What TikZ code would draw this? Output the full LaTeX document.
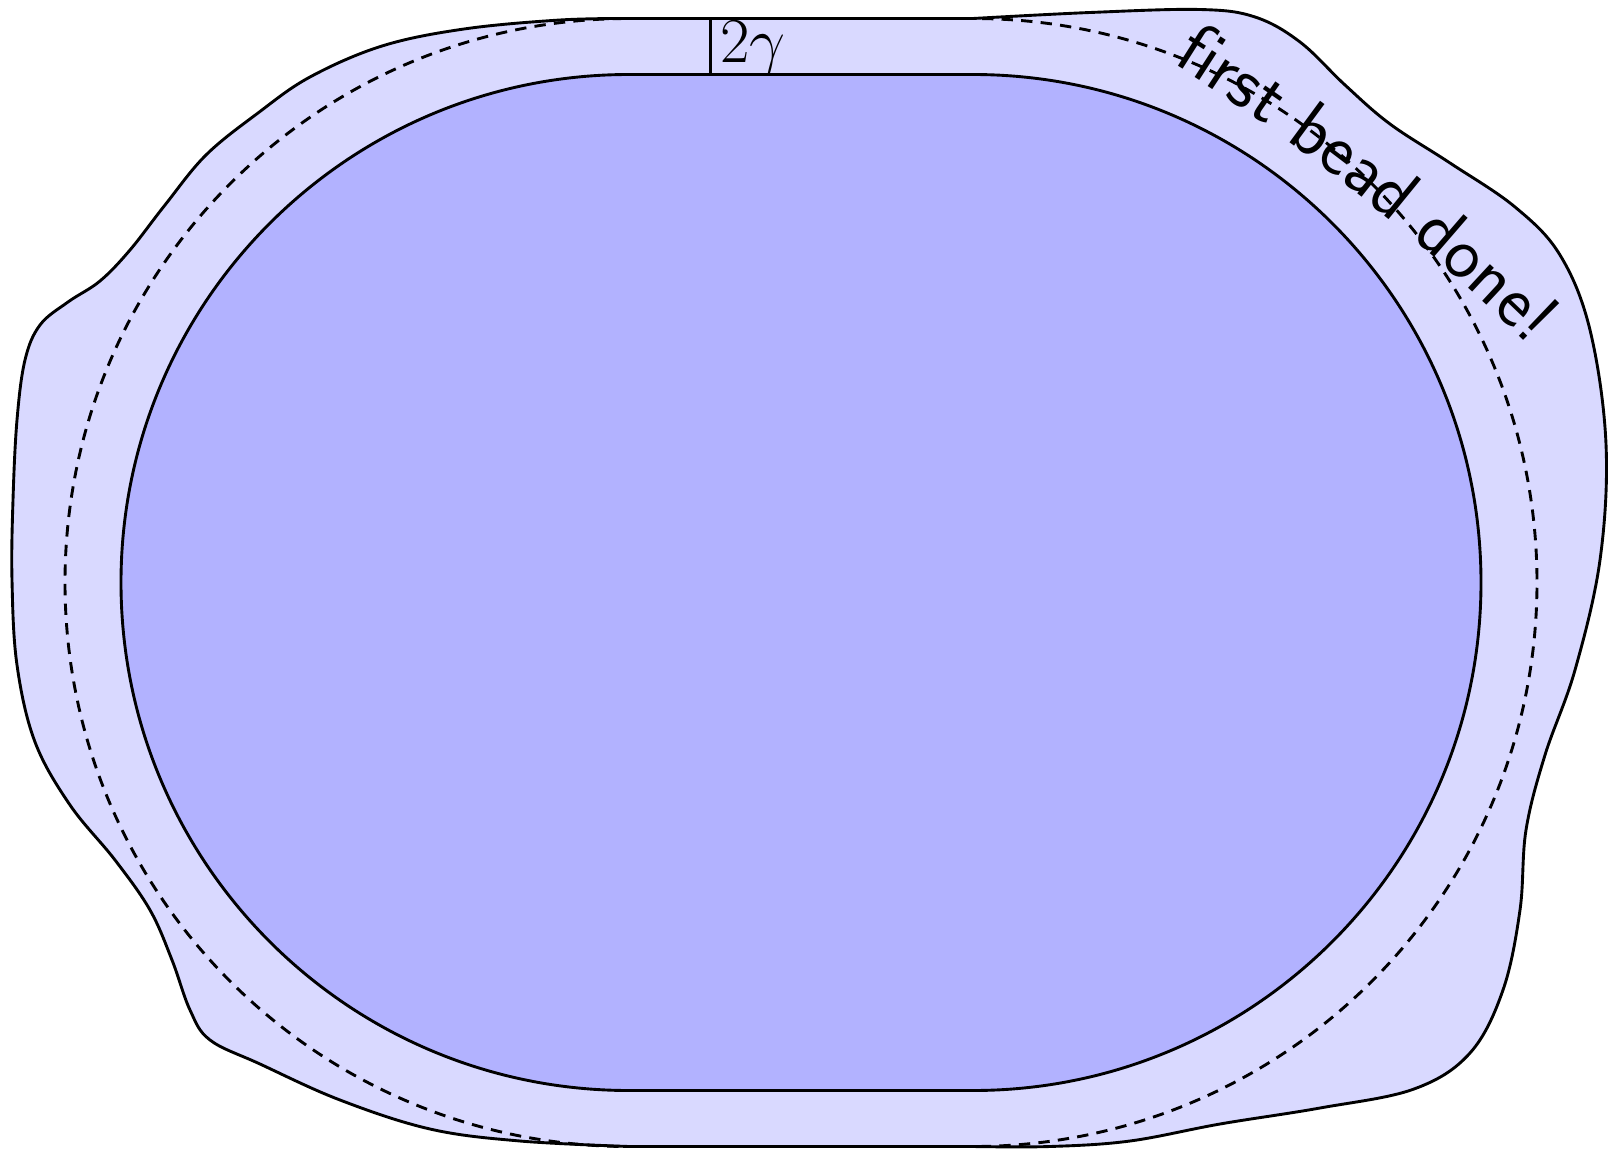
\documentclass[tikz,border=0pt]{standalone}
\usepackage{fix-cm}
\usetikzlibrary{decorations.text}
\begin{document}
\begin{tikzpicture}[x=0.4845pt,y=-0.4845pt,
  edge/.style={line width=1.4pt, line join=round},
  outerband/.style={edge, fill=blue!15},
  innercore/.style={edge, fill=blue!30},
  beadline/.style={line width=1.4pt, dash pattern=on 5.5pt off 4pt},
  gaplabel/.style={anchor=base west, inner sep=0pt, font=\fontsize{31}{36}\selectfont},
  beadtext/.style={decorate, decoration={text along path,
     text={|\fontsize{36}{40}\selectfont\sffamily|first bead done!}}}
]
\useasboundingbox (0,0) rectangle (1618,1150);
\coordinate (LC) at (629,582.5);
\coordinate (RC) at (973,582.5);
% outer boundary
\draw[outerband] (629,18.5) -- (973,18.5)
  -- plot[smooth, tension=0.6] coordinates {(973,18.5) (1090,12.5) (1200,9.5) (1255,17) (1300,42) (1345,85) (1390,124) (1450,163) (1515,207) (1560,255) (1590,330) (1606,444) (1600,560) (1575,670) (1545,755) (1526,830) (1520,910) (1503,990) (1470,1053) (1414,1089) (1320,1108) (1220,1124) (1130,1141) (1050,1146.5) (973,1146.5)}
  -- (629,1146.5)
  -- plot[smooth, tension=0.6] coordinates {(629,1146.5) (520,1141) (430,1129) (340,1100) (260,1064) (210,1040) (190,1010) (172,960) (150,910) (115,860) (70,805) (35,742) (17,665) (12,580) (13,500) (17,420) (25,360) (40,325) (68,302) (100,281) (130,250) (165,205) (206,155) (258,113) (310,77) (382,46) (464,29) (560,20) (629,18.5)}
  -- cycle;
% dashed offset curve
\draw[beadline] (629,18.5) -- (973,18.5) arc[start angle=270, end angle=450, radius=564]
  -- (629,1146.5) arc[start angle=90, end angle=270, radius=564] -- cycle;
% inner stadium
\draw[innercore] (629,74.5) -- (973,74.5) arc[start angle=270, end angle=450, radius=508]
  -- (629,1090.5) arc[start angle=90, end angle=270, radius=508] -- cycle;
% 2 gamma
\coordinate (gtop) at (710.5,18.5);
\coordinate (gbot) at (710.5,74.5);
\draw[edge] (gtop) -- (gbot);
\node[gaplabel] (glabel) at (720,62) {$2\gamma$};
% text along a gentle arc
\coordinate (tc) at (88.3,1797.2);
\path[beadtext] (tc) ++(302:2045) arc[start angle=302, end angle=317, radius=2045];
\end{tikzpicture}
\end{document}
